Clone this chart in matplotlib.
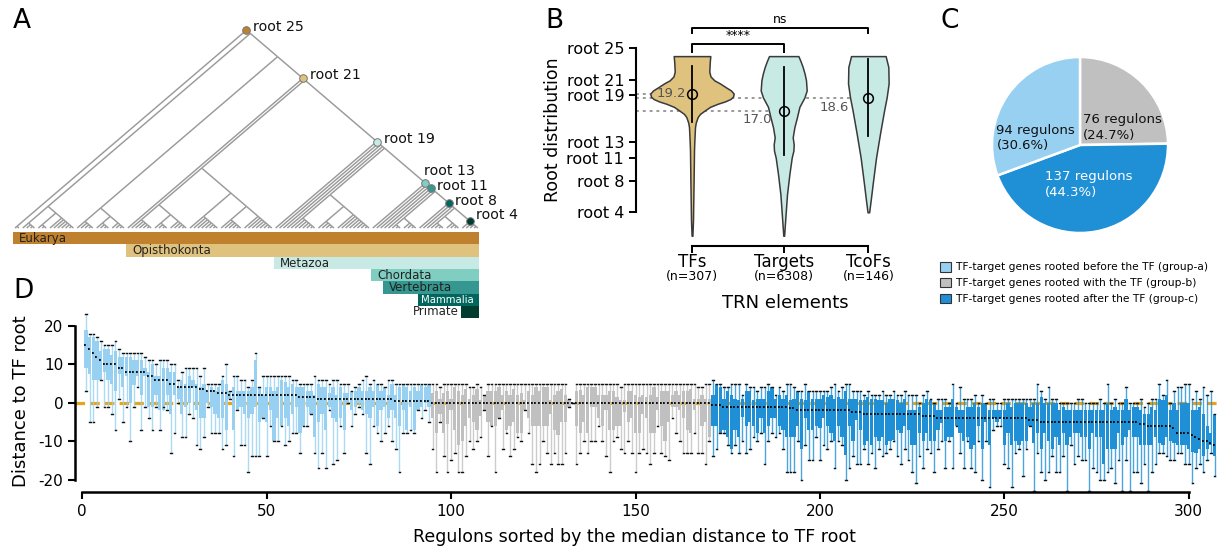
import numpy as np
import matplotlib
matplotlib.use('Agg')
import matplotlib.pyplot as plt
from matplotlib.collections import LineCollection
from matplotlib.patches import Patch

plt.rcParams['font.family'] = ['DejaVu Sans']
plt.rcParams['axes.unicode_minus'] = False

# ======================= DATA =======================
# ---- Panel A : species tree (nested clades; int n = ladder of n leaves) ----
clade_names = ['Eukarya', 'Opisthokonta', 'Metazoa', 'Chordata', 'Vertebrata', 'Mammalia', 'Primate']
root_labels = ['root 25', 'root 21', 'root 19', 'root 13', 'root 11', 'root 8', 'root 4']
clade_colors = ['#bf812d', '#dfc27d', '#c7eae5', '#80cdc1', '#35978f', '#01665e', '#003c30']
clade_text_colors = ['#222222', '#222222', '#222222', '#222222', '#222222', 'white', '#222222']

root4 = [1, 4]
root8 = [1, [1, [1, [[4, 4], root4]]]]
root11 = [1, [1, [[3, 4], root8]]]
root13 = [1, [1, [1, root11]]]
root19 = [1, [1, [1, [1, [[7, [5, 9]], root13]]]]]
root21 = [1, [[[6, [4, 5]], [8, [6, 8]]], root19]]
root25 = [2, [[4, [3, 7]], [[5, [4, 4]], root21]]]
named_nodes = [root25, root21, root19, root13, root11, root8, root4]

# ---- Panel B : violins ----
trn_categories = ['TFs', 'Targets', 'TcoFs']
trn_counts = [307, 6308, 146]
trn_means = [19.2, 17.0, 18.6]
trn_line_low = [15.6, 11.4, 13.8]
trn_line_high = [22.7, 22.6, 23.6]
root_tick_values = [25, 21, 19, 13, 11, 8, 4]
root_tick_labels = ['root 25', 'root 21', 'root 19', 'root 13', 'root 11', 'root 8', 'root 4']
tf_levels = [24.0, 23.3, 22.6, 22.0, 21.4, 20.9, 20.5, 20.0, 19.6, 19.2, 18.8, 18.5, 18.2,
             17.9, 17.5, 17.0, 16.6, 16.2, 15.5, 14.9, 13.0, 11.9, 8.0, 5.5, 3.0, 1.0]
tf_density = [18.3, 17.8, 17.5, 17.3, 18.5, 22.3, 28, 34, 39, 41.7, 41, 38.3, 33,
              25.7, 18, 12.3, 8, 5.7, 3.8, 3, 2.3, 2, 1.6, 1.3, 1.0, 0.4]
targets_levels = [24.0, 23.3, 22.6, 21.7, 20.9, 19.6, 18.7, 17.5, 16.2, 14.9, 13.6, 12.7,
                  11.9, 11.0, 8.9, 6.3, 3.4, 1.0]
targets_density = [14.7, 17, 19, 21, 22.3, 23, 20.7, 15.7, 13.3, 10.7, 9, 10, 9.7, 8, 5.7,
                   3.3, 1.7, 0.4]
tcof_levels = [24.0, 22.6, 20.5, 18.7, 17.0, 14.1, 11.0, 7.6, 5.5, 4.0]
tcof_density = [17.3, 20, 20.3, 18.3, 15.7, 11.7, 7.7, 4.3, 2.3, 0.8]
sig_labels = ['****', 'ns']

# ---- Panel C : pie ----
pie_values = [76, 137, 94]
pie_texts = ['76 regulons\n(24.7%)', '137 regulons\n(44.3%)', '94 regulons\n(30.6%)']
group_labels = ['TF-target genes rooted before the TF (group-a)',
                'TF-target genes rooted with the TF (group-b)',
                'TF-target genes rooted after the TF (group-c)']
group_sizes = [94, 76, 137]
group_colors = ['#98d0f2', '#c0c0c0', '#1f90d5']

# ---- Panel D : per-regulon box statistics (regulons 1..307) ----
med = [15, 14, 13, 12, 11, 10, 10, 10, 10, 9,
       9, 8, 8, 8, 8, 8, 8, 7, 7, 6,
       6, 6, 6, 5, 5, 4, 4, 4, 4, 4,
       4, 3.5, 3.5, 3, 3, 3, 2.5, 2.5, 2.5, 2,
       2, 2, 2, 2, 2, 2, 2, 2, 2, 2,
       2, 2, 2, 2, 2, 2, 2, 2, 1.5, 1.5,
       1.5, 1.5, 1.5, 1, 1, 1, 1, 1, 1, 1,
       1, 1, 1, 1, 1, 1, 1, 1, 1, 1,
       1, 1, 1, 1, 0.5, 0.5, 0.5, 0.5, 0.5, 0.5,
       0.5, 0.5, 0.5, 0.5,
       0, 0, 0, 0, 0, 0, 0, 0, 0, 0,
       0, 0, 0, 0, 0, 0, 0, 0, 0, 0,
       0, 0, 0, 0, 0, 0, 0, 0, 0, 0,
       0, 0, 0, 0, 0, 0, 0, 0, 0, 0,
       0, 0, 0, 0, 0, 0, 0, 0, 0, 0,
       0, 0, 0, 0, 0, 0, 0, 0, 0, 0,
       0, 0, 0, 0, 0, 0, 0, 0, 0, 0,
       0, 0, 0, 0, 0, 0,
       -0.5, -0.5, -0.5, -1, -1, -1, -1, -1, -1, -1,
       -1, -1, -1, -1, -1, -1, -1, -1, -1, -1,
       -1, -1.5, -1.5, -2, -2, -2, -2, -2, -2, -2,
       -2, -2, -2, -2, -2, -2, -2, -2, -2.5, -2.5,
       -2.5, -3, -3, -3, -3, -3, -3, -3, -3, -3,
       -3, -3, -3, -3, -3, -3, -3, -3.5, -3.5, -3.5,
       -3.5, -4, -4, -4, -4, -4, -4, -4, -4, -4,
       -4, -4, -4, -4, -4, -4, -4, -4, -4, -4,
       -4, -4, -4, -4, -4, -4, -4.5, -4.5, -4.5, -5,
       -5, -5, -5, -5, -5, -5, -5, -5, -5, -5,
       -5, -5, -5, -5, -5, -5, -5, -5, -5, -5,
       -5, -5, -5, -5, -5, -5, -5.5, -5.5, -6, -6,
       -6, -6, -6, -6, -6, -6.5, -8, -8, -8, -8,
       -8.5, -9, -9.5, -10, -10, -10.5, -11]
q1 = [9, 7.5, 6, 6, 6, 8, 6, 5, 3, 7.5,
      4, 7, 0, 4.5, 7, 2, 7, -1, -1, 2,
      -2, -2, 2, -3, 2, 1, -3, -1, 0, 4,
      -2, -4, -4, 0, -1, -3, -4, -4, -7, 1,
      -7, -2, -1, -3, -4, -3, -1, -5, -4, -5,
      -2, -10, -4, -6, -4, -6, -3, -1, -8, -6,
      -1, -3, -9, -5, -3, -7, -1, -4, -5, -4,
      -7, 0, -2, -1, 0, -2, -3, -4, -1, -6,
      -2, -1, -4, -2, -4, -6, -2, -7, -1, -7,
      -2, -1, 0, -1,
      -4, -8, -3, -8, -5.5, -2, -7, -11, -10, -6,
      -4, -5, -7, -3.5, -2, -5, -6, -6, -4, -2,
      -7, -6, -5, -8, -8, -2, -4, -6, -6, -6,
      -6, -6, -3, -7, -8.5, -5, -5, -1, 0, -6,
      -8, -5, -8, -1, -1, -4, -6, -2, -7, -7,
      -6, -6, -2.5, -5, -4, -8, -8, -3, -4, -8,
      -8, -2, -6, -10, -5, -1, -1, -2, -4, -7,
      -8, -2, -0.2, -6, -5, -9,
      -6, -6, -8, -7, -9, -12, -7, -9, -3.6, -6,
      -5, -6, -8, -4, -8, -6, -4, -4, -6, -7,
      -9, -9, -9, -6, -12, -4, -7, -7, -6, -6.5,
      -4, -6, -8, -10, -6, -9, -13.5, -6, -10, -4.5,
      -7, -11, -10, -11, -9, -10, -9, -11, -10, -9.7,
      -7, -8, -6, -7, -11, -11, -8, -10, -8, -10,
      -10, -7, -5.4, -10, -9, -9, -6, -8, -10, -9,
      -12, -11, -6, -12, -5, -11, -4, -5, -4, -11,
      -8, -11, -10, -11, -10, -10, -6, -10.5, -8, -12,
      -8, -10, -12, -9, -11, -8, -11, -9, -8, -8,
      -9, -9, -12, -8, -9, -9, -16, -12, -12, -12,
      -8, -11, -9, -7, -9, -9, -11, -11, -11, -11,
      -9, -10.5, -11, -9, -10, -10.5, -11, -11, -11, -12,
      -12.8, -13, -12, -14, -12, -11, -14]
q3 = [19, 17, 17, 16, 13.5, 14, 14, 12.5, 13.5, 12,
      12, 12, 12, 11, 11, 11, 9, 8, 10, 7,
      7, 9, 9, 8, 8, 4, 6, 5, 7, 6,
      5, 4, 5, 3, 4, 3, 4, 6, 5, 3,
      4, 3, 3, 3, 3, 4, 11, 4, 2, 4,
      4, 3, 4, 6, 5.5, 4, 5, 4, 4, 4,
      3, 3, 2, 5, 4, 4, 2.5, 4, 2, 4,
      2.5, 2.5, 3, 3, 4, 3, 3, 4, 3, 5,
      3, 4, 2, 5, 2, 4, 5, 4, 3, 4,
      3, 5, 4, 5,
      2.5, 3, 1, 2.5, 3, 1, 4, 3, 2, 3.5,
      1, 2, 3.5, 0.7, 2, 3, 3, 3, 4, 2,
      3, 2, 3.5, 2, 2.5, 0.7, 3, 2, 4, 3,
      4, 4, 0.7, 2, 3, 3.5, 2, 0.7, 0, 3,
      3.3, 2, 4, 4, 4, 2, 2, 2, 3, 3,
      1.5, 0.7, 0.7, 3, 3, 2, 1.4, 2, 1.4, 2,
      4, 1.4, 3, 3, 3, 2, 3, 2, 3, 3,
      3.5, 1, 1, 2, 1, 1,
      2, 5, 4, 1, 3, 2, 1, 0.7, 1, 3,
      3, 0.7, 1, 1, 1, 3, 4, 1, 2, 1,
      2, 0.7, 1, 3, 1, 0.7, 3, 1, 1, 1,
      2, 1.4, 2, 1, 1.4, 1, 3, 1, 1, 1,
      0.7, 0.7, 1.4, 1, 1, 0.7, 0.7, -0.2, 1, 1,
      0.7, -0.2, 1, -2, -2, -2, -1, 0, 1, 0.7,
      -0.2, -2, -2, -1, -1, 1, -1, -2, -2, -1,
      -1, -0.2, -1, 0, 0, -2, -2, -2, -2, -2,
      0, -1, 0, 0, 0, 0, -1, 0, 0, 1.4,
      0, 0, 0, 0, -2, -1, -2, -2, -2, -2,
      -2, -2, -2, -2, -2, -2, -2, 0, -2, -1,
      -2, -2, 1, -2, -1, -1, -2, -3, -3, -1,
      -2, 1, 0.7, 2, -2, -0.2, -2, 0, 0, 0,
      -2, -2, -1, -3, -6, -8, -3]
whisker_low = [3, -5, -5, -1, 6, -1, -1, -3, -7, 1,
               -5, -1, -10, -1, 4, -7, -1, -4, -7, -1,
               -7, -1, -2, -13, -8, 0, -9, -9, -3, -4,
               -11, -12, -9, -1, -8, -8, -8, -12, -11, 1,
               -14, -2, -11, -11, -18, -14, -14, -14, -4, -14,
               -6, -10, -10, -6, -11, -10, -8, -8, -13, -6,
               -6, -3, -13, -17, -13, -17, -2, -16, -15, -6,
               -13, 0, -6, -3, -1, -3, -13, -16, -6, -8,
               -10, -8, -6, -10, -12, -18, -8, -8, -7, -8,
               -2, -4, -2, -5,
               -12, -18, -5, -14, -18, -15, -13, -18, -18, -14,
               -10, -12, -10, -9, -2, -14, -6, -18, -4, -12,
               -8, -14, -12, -9, -10, -2, -8, -16, -18, -16,
               -10, -13, -16, -13, -16, -16, -13, -1, 0, -16,
               -13, -10, -13, -10, -10, -6, -10, -14, -18, -10,
               -9, -12, -13, -10, -13, -18, -13, -12, -13, -16,
               -13, -6, -13, -14, -15, -4, -8, -10, -13, -13,
               -13, -8, -13, -13, -16, -10,
               -14, -12, -8, -8, -11, -13, -11, -13, -10, -13,
               -12, -9, -10, -8, -16, -10, -8, -9, -8, -12,
               -18, -18, -18, -10, -20, -11, -15, -15, -9, -15,
               -11, -12, -10, -17, -10, -11, -20, -17, -14, -16,
               -16, -12, -16, -13, -17, -12, -14, -13, -12, -10,
               -14, -16, -12, -15, -18, -21, -14, -17, -12, -13,
               -18, -12, -10, -17, -10, -17, -6, -13, -17, -10,
               -17, -18, -10, -20, -10, -22, -7, -6, -6, -16,
               -17, -22, -13, -12, -19, -12, -6, -23, -13, -18,
               -20, -18, -14, -18, -18, -14, -23, -11, -16, -14,
               -15, -15, -23, -17, -18, -20, -20, -18, -17, -21,
               -15, -23, -15, -23, -18, -18, -21, -16, -23, -18,
               -16, -13, -13, -14, -15, -15, -13, -13, -16, -16,
               -21, -17, -16, -18, -15, -13, -19]
whisker_high = [23, 18, 18, 17, 16, 15, 15, 15, 16, 14,
                13, 13, 13, 13, 13, 13, 12, 11, 11, 10,
                11, 11, 11, 10, 10, 6, 8, 9, 9, 9,
                9, 7, 9, 5, 5, 5, 5, 7, 10, 3,
                7, 7, 6, 6, 4, 6, 13, 4, 7, 7,
                7, 7, 7, 7, 7, 7, 6, 6, 5, 5,
                5, 5, 7, 6, 6, 6, 5, 6, 6, 5,
                5, 5, 3, 4, 5, 6, 7, 5, 6, 5,
                5, 4, 6, 6, 5, 5, 5, 5, 5, 5,
                5, 5, 5, 5,
                5, 5, 4, 5, 5, 5, 5, 5, 5, 5,
                4, 4, 5, 4, 2, 5, 5, 5, 5, 5,
                5, 5, 5, 5, 5, 5, 5, 5, 5, 5,
                5, 5, 5, 5, 5, 5, 5, 1, 0, 5,
                5, 5, 5, 5, 5, 5, 5, 5, 5, 5,
                5, 4, 5, 5, 5, 5, 5, 5, 5, 5,
                5, 5, 5, 5, 5, 5, 5, 5, 5, 5,
                5, 5, 4, 4, 5, 5,
                6, 5, 5, 4, 4, 5, 5, 5, 2, 5,
                4, 4, 3, 4, 4, 5, 4, 2, 4, 3,
                5, 5, 4, 3, 3, 5, 3, 3, 3, 3,
                3, 3, 4, 5, 3, 4, 5, 5, 3, 3,
                3, 2, 3, 2, 2, 2, 3, 2, 2, 3,
                2, 2, 3, 2, 2, 2, 0, 2, 3, 1,
                0, 1, 1, 1, 0, 5, 0, 4, 1, 1,
                1, 2, 0, 2, 0, 1, 1, 0, 0, 1,
                1, 1, 1, 1, 1, 1, 1, 1, 5, 3,
                1, 4, 1, 1, 0, 0, 0, 0, 0, 1,
                1, 0, 0, 0, 0, 1, 0, 5, 0, 1,
                0, 0, 4, 0, 0, 0, 1, -1, 0, 1,
                1, 5, 2, 6, 0, 3, 4, 4, 5, 5,
                1, 3, 1, 4, 2, 3, -3]

# ======================= FIGURE =======================
W, H = 1222, 547
fig = plt.figure(figsize=(W / 100, H / 100), dpi=100)


def rect(l, t, r, b):
    return [l / W, 1 - b / H, (r - l) / W, (b - t) / H]


# ---------------- Panel A ----------------
axA = fig.add_axes(rect(0, 0, 500, 325))
axA.set_axis_off()
axA.patch.set_alpha(0)
segs = []
info = {}
counter = [0]


def layout(node):
    if isinstance(node, int):
        if node == 1:
            x = counter[0]
            counter[0] += 1
            return x, x, float(x), 0.0
        children = [1, node - 1]
    else:
        children = node
    res = [layout(c) for c in children]
    left, right = res[0][0], res[-1][1]
    x, h = (left + right) / 2, (right - left) / 2
    for (_, _, cx, ch) in res:
        segs.append([(x, h), (cx, ch)])
    if not isinstance(node, int):
        info[id(node)] = (left, right, x, h)
    return left, right, x, h


layout(root25)
n_leaves = counter[0]
leaf_px = 3.89
h_px = 3.326
axA.set_xlim(-15 / leaf_px, (500 - 15) / leaf_px)
axA.set_ylim(-(325 - 228) / h_px, 228 / h_px)
axA.add_collection(LineCollection(segs, colors='#9a9a9a', linewidths=1.05, zorder=1))

label_offsets = [(7, 3), (7, 3), (7, 3), (-1, 12), (6, 2), (6, 2), (6, 6)]
for k, node in enumerate(named_nodes):
    left, right, x, h = info[id(node)]
    axA.scatter([x], [h], s=30, color=clade_colors[k], edgecolors='#777777', linewidths=0.7, zorder=3)
    axA.annotate(root_labels[k], (x, h), xytext=label_offsets[k], textcoords='offset pixels',
                 fontsize=10.2, ha='left', va='center', color='#111111')
    # clade band
    row_h = 12.3 / h_px
    top = -(4 + 12.3 * k) / h_px
    b_left = left - 0.45
    b_right = n_leaves - 1 + 0.35
    axA.barh(top - row_h / 2, b_right - b_left, left=b_left, height=row_h,
             color=clade_colors[k], edgecolor='none', zorder=2)
    if clade_names[k] == 'Primate':
        axA.text(b_left - 0.4, top - row_h / 2, clade_names[k], ha='right', va='center',
                 fontsize=8.5, color='#222222')
    else:
        fs = 7.3 if clade_names[k] == 'Mammalia' else 8.5
        pad = 0.8 if clade_names[k] == 'Mammalia' else 1.5
        axA.text(b_left + pad, top - row_h / 2 - 0.1, clade_names[k], ha='left', va='center',
                 fontsize=fs, color=clade_text_colors[k])

# ---------------- Panel B ----------------
bx_l, bx_t, bx_r, bx_b = 636, 10, 910, 245.7
b_px = 91.7          # pixels per category step
b_pos = [0, 1, 1.923]
v_px = 7.81          # pixels per root unit
axB = fig.add_axes(rect(bx_l, bx_t, bx_r, bx_b))
axB.patch.set_alpha(0)
x_left = (bx_l - 692) / b_px
axB.set_xlim(x_left, (bx_r - 692) / b_px)
axB.set_ylim(25 - (bx_b - 48.3) / v_px, 25 + (48.3 - bx_t) / v_px)
violin_levels = [tf_levels, targets_levels, tcof_levels]
violin_dens = [tf_density, targets_density, tcof_density]
violin_colors = ['#dfc27d', '#c7eae5', '#c7eae5']
for k in range(3):
    lv = np.array(violin_levels[k])
    w = np.array(violin_dens[k]) / b_px
    axB.fill_betweenx(lv, b_pos[k] - w, b_pos[k] + w, facecolor=violin_colors[k],
                      edgecolor='#3a3a3a', linewidth=1.1, zorder=2)
    axB.plot([b_pos[k], b_pos[k]], [trn_line_low[k], trn_line_high[k]], color='black', lw=1.3, zorder=3)
    axB.plot([b_pos[k]], [trn_means[k]], 'o', mfc='none', mec='black', ms=7, mew=1.1, zorder=4)
    axB.plot([x_left, b_pos[k]], [trn_means[k], trn_means[k]], ls=(0, (1.5, 2)), color='#9a9a9a',
             lw=1.4, zorder=1)
mean_text_pos = [(-0.221, 19.15), (0.717, 15.92), (1.55, 17.44)]
for k in range(3):
    axB.text(mean_text_pos[k][0], mean_text_pos[k][1], f'{trn_means[k]:.1f}', ha='center', va='center',
             fontsize=9.5, color='#555555', zorder=5)
# significance brackets
brk = [(b_pos[0], b_pos[1], 25.51, 24.56), (b_pos[0], b_pos[2], 27.56, 26.92)]
for (x0, x1, yt, yb), lab in zip(brk, sig_labels):
    axB.plot([x0, x0, x1, x1], [yb, yt, yt, yb], color='black', lw=1.4, clip_on=False)
    axB.text((x0 + x1) / 2, yt + 0.25, lab, ha='center', va='bottom', fontsize=9)
for s in ['top', 'right']:
    axB.spines[s].set_visible(False)
axB.spines['left'].set_bounds(4, 25)
axB.spines['bottom'].set_bounds(b_pos[0], b_pos[2])
for s in ['left', 'bottom']:
    axB.spines[s].set_linewidth(1.5)
axB.set_yticks(root_tick_values)
axB.set_yticklabels(root_tick_labels, fontsize=11.5)
axB.set_xticks(b_pos)
axB.set_xticklabels([])
axB.tick_params(axis='both', width=1.4, length=5)
for k in range(3):
    axB.annotate(trn_categories[k], (b_pos[k], 0), xycoords=('data', 'axes fraction'),
                 xytext=(0, -16), textcoords='offset pixels', ha='center', va='center', fontsize=12)
    axB.annotate(f'(n={trn_counts[k]})', (b_pos[k], 0), xycoords=('data', 'axes fraction'),
                 xytext=(0, -31), textcoords='offset pixels', ha='center', va='center', fontsize=9)
fig.text((692 + 868) / 2 / W + 0.004, 1 - 303 / H, 'TRN elements', ha='center', va='center', fontsize=13)
fig.text(553 / W, 1 - 130 / H, 'Root distribution', rotation=90, ha='center', va='center', fontsize=12.5)

# ---------------- Panel C ----------------
axC = fig.add_axes(rect(992, 57, 1168, 233))
pie_colors = [group_colors[1], group_colors[2], group_colors[0]]
axC.pie(pie_values, colors=pie_colors, startangle=90, counterclock=False,
        wedgeprops=dict(edgecolor='white', linewidth=1.8))
axC.set_xlim(-1.0, 1.0)
axC.set_ylim(-1.0, 1.0)
pie_text_pos = [(0.03, 0.2), (-0.40, -0.45), (-0.95, 0.08)]
pie_text_colors = ['#111111', 'white', '#111111']
for k in range(3):
    axC.text(pie_text_pos[k][0], pie_text_pos[k][1], pie_texts[k], ha='left', va='center',
             fontsize=9.5, color=pie_text_colors[k], linespacing=1.25)
handles = [Patch(facecolor=c, edgecolor='#333333', linewidth=0.8) for c in group_colors]
fig.legend(handles, group_labels, loc='upper left', bbox_to_anchor=(940 / W, 1 - 262 / H),
           frameon=False, fontsize=7.7, handlelength=1.0, handleheight=1.0, handletextpad=0.5,
           labelspacing=0.5, borderpad=0, borderaxespad=0)

# ---------------- Panel D ----------------
d_l, d_t, d_r, d_b = 75, 310, 1220, 491.7
dx0, dxs = 82.3, 3.688
dy0, dys = 402.7, 3.84
axD = fig.add_axes(rect(d_l, d_t, d_r, d_b))
axD.patch.set_alpha(0)
axD.set_xlim((d_l - dx0) / dxs, (d_r - dx0) / dxs)
axD.set_ylim((dy0 - d_b) / dys, (dy0 - d_t) / dys)
axD.axhline(0, color='#e8a317', ls=(0, (3, 1.6)), lw=2.3, zorder=1)
start = 0
for g in range(3):
    idx = range(start, start + group_sizes[g])
    stats = [dict(med=med[i], q1=q1[i], q3=q3[i], whislo=whisker_low[i], whishi=whisker_high[i],
                  fliers=[]) for i in idx]
    positions = [i + 1 for i in idx]
    axD.bxp(stats, positions=positions, widths=0.88, patch_artist=True, showfliers=False,
            manage_ticks=False, capwidths=0.45,
            boxprops=dict(facecolor=group_colors[g], edgecolor=group_colors[g], linewidth=0),
            whiskerprops=dict(color=group_colors[g], alpha=0.8, linewidth=1.0),
            capprops=dict(color='#111111', linewidth=1.0),
            medianprops=dict(color='black', linestyle=(0, (1, 1.2)), linewidth=1.3),
            zorder=2)
    start += group_sizes[g]
for s in ['top', 'right']:
    axD.spines[s].set_visible(False)
axD.spines['left'].set_bounds(-20, 20)
axD.spines['bottom'].set_bounds(0, 300)
for s in ['left', 'bottom']:
    axD.spines[s].set_linewidth(1.8)
axD.set_yticks([-20, -10, 0, 10, 20])
axD.set_xticks([0, 50, 100, 150, 200, 250, 300])
axD.tick_params(axis='both', width=1.5, length=5, labelsize=11)
fig.text(20.7 / W, 1 - 401 / H, 'Distance to TF root', rotation=90, ha='center', va='center', fontsize=13)
fig.text(634.5 / W, 1 - 537 / H, 'Regulons sorted by the median distance to TF root', ha='center',
         va='center', fontsize=12.5)

# panel letters
for lab, (px, py) in zip('ABCD', [(13, 8), (545, 8), (940, 8), (13, 278)]):
    fig.text(px / W, 1 - py / H, lab, fontsize=19, ha='left', va='top')

fig.savefig('out.png', dpi=100)
